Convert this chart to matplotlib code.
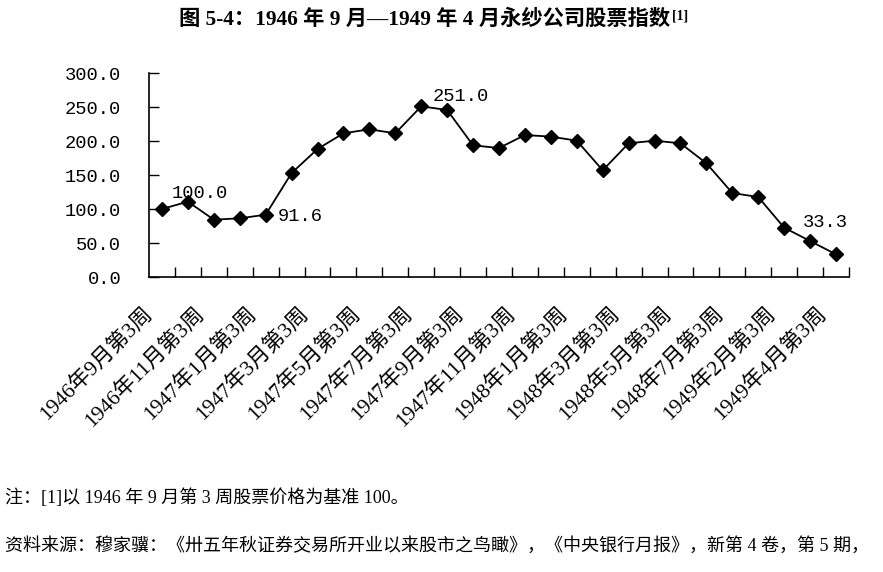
import matplotlib
matplotlib.use("Agg")
import matplotlib.pyplot as plt
import matplotlib.transforms as mtransforms

plt.rcParams['font.family'] = ['Liberation Serif', 'Noto Sans CJK SC', 'DejaVu Sans']

# ---- data ----
values = [100.0, 110.8, 84.3, 86.3, 91.6, 152.9, 188.2, 211.3, 217.2, 211.3,
          251.0, 245.6, 193.6, 189.7, 208.8, 206.4, 200.5, 156.9, 196.6, 200.5,
          196.6, 167.2, 123.5, 117.6, 72.5, 52.9, 33.3]
tick_labels = ["1946年9月第3周", "1946年11月第3周", "1947年1月第3周", "1947年3月第3周",
               "1947年5月第3周", "1947年7月第3周", "1947年9月第3周", "1947年11月第3周",
               "1948年1月第3周", "1948年3月第3周", "1948年5月第3周", "1948年7月第3周",
               "1949年2月第3周", "1949年4月第3周"]
label_points = [0, 4, 10, 26]
yticks = [0, 50, 100, 150, 200, 250, 300]

title = "图 5-4：1946 年 9 月—1949 年 4 月永纱公司股票指数"
title_sup = "[1]"
note1 = "注：[1]以 1946 年 9 月第 3 周股票价格为基准 100。"
note2 = "资料来源：穆家骥：《卅五年秋证券交易所开业以来股市之鸟瞰》，《中央银行月报》，新第 4 卷，第 5 期，"

W, H = 883, 572
fig = plt.figure(figsize=(W / 100, H / 100), dpi=100)
ax = fig.add_axes([149 / W, 1 - 277 / H, 700 / W, 204 / H])

x = list(range(len(values)))
ax.plot(x, values, color='black', lw=1.3, marker='D', markersize=6.8, zorder=3)

ax.set_xlim(-0.5, len(values) - 0.5)
ax.set_ylim(0, 300)
ax.set_yticks(yticks)
ax.set_yticklabels([f"{v:.1f}" for v in yticks], family='Liberation Mono', fontsize=13.5)
ax.tick_params(axis='y', direction='in', length=7, width=1, pad=20)

# tick marks at category boundaries, labels under every second category
ax.set_xticks([i + 0.5 for i in range(len(values))])
ax.set_xticklabels([])
ax.tick_params(axis='x', which='major', direction='in', length=7, width=1)
ax.set_xticks(list(range(0, len(values), 2)), minor=True)
ax.set_xticklabels(tick_labels, minor=True, rotation=45, ha='right', va='top',
                   rotation_mode='anchor', fontsize=15.5)
ax.tick_params(axis='x', which='minor', length=0, pad=19)
shift = mtransforms.ScaledTranslation(-19.5 / 100, 0, fig.dpi_scale_trans)
for lbl in ax.get_xticklabels(minor=True):
    lbl.set_transform(lbl.get_transform() + shift)

for s in ['top', 'right']:
    ax.spines[s].set_visible(False)
for s in ['left', 'bottom']:
    ax.spines[s].set_linewidth(1.2)

offsets = {0: (38, 16), 4: (35, -2), 10: (40, 10), 26: (-11, 32)}
for i in label_points:
    ax.annotate(f"{values[i]:.1f}", (i, values[i]), xytext=offsets[i],
                textcoords='offset pixels', ha='center', va='center',
                family='Liberation Mono', fontsize=13.5)

t = fig.text(425 / W, 1 - 20 / H, title, ha='center', va='center', fontsize=15.3,
             fontweight='bold')
fig.canvas.draw()
bb = t.get_window_extent()
fig.text((bb.x1 + 1) / W, (bb.y1 - 6) / H, title_sup, ha='left', va='center',
         fontsize=10, fontweight='bold')

fig.text(5 / W, 1 - 498 / H, note1, ha='left', va='center', fontsize=13)
fig.text(5 / W, 1 - 546 / H, note2, ha='left', va='center', fontsize=13)

fig.savefig("out.png", dpi=100)
